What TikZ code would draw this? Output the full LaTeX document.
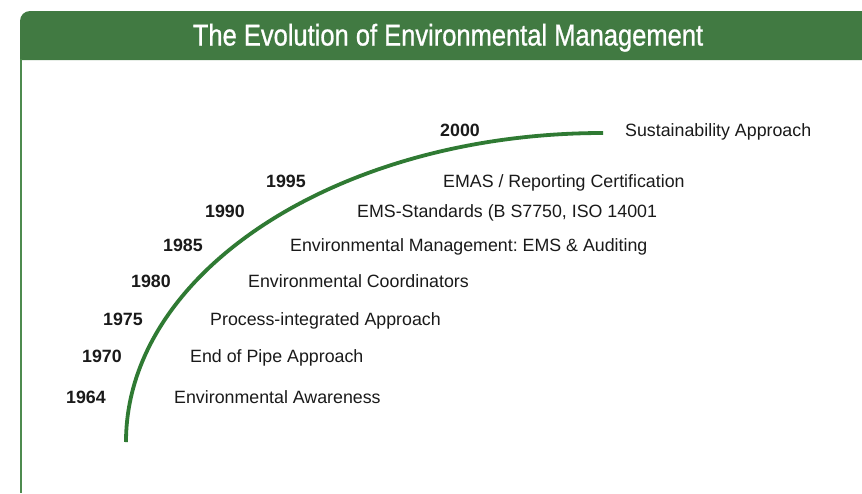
\documentclass[tikz,border=0pt]{standalone}
\usepackage{fontspec}
\setmainfont{Liberation Sans}
\newfontfamily\headfont[FakeStretch=0.85,FakeBold=0.9]{Liberation Sans}
\definecolor{hdrgreen}{HTML}{417A42}
\definecolor{framegreen}{HTML}{4E8B4F}
\definecolor{arcgreen}{HTML}{2F7A33}
\definecolor{ink}{HTML}{1A1A1A}
\frenchspacing
\begin{document}
\begin{tikzpicture}[x=1pt,y=-1pt,
  year/.style={anchor=base east,inner sep=0pt,text=ink,font=\fontsize{17.8}{20}\selectfont\bfseries},
  stage/.style={anchor=base west,inner sep=0pt,text=ink,font=\fontsize{17.8}{20}\selectfont},
  title/.style={inner sep=0pt,text=white,anchor=base,font=\headfont\fontsize{30}{32}\selectfont}]
\useasboundingbox (0,0) rectangle (862,493);
\fill[white] (0,0) rectangle (862,493);

% header band with rounded top-left corner
\fill[hdrgreen] (20,60) [rounded corners=10pt]-- (20,11) [sharp corners]-- (862,11) -- (862,60) -- cycle;
\node[title] (head) at (448,45.5) {The Evolution of Environmental Management};

% left frame line
\draw[framegreen,line width=2pt] (21,59) -- (21,493);

% growth curve
\draw[arcgreen,line width=3.8pt] (126,442) .. controls (126,271) and (340,133) .. (603,133);

% years
\node[year] (y2000) at (480,136.5) {2000};
\node[year] (y1995) at (306,187.5) {1995};
\node[year] (y1990) at (245,217.5) {1990};
\node[year] (y1985) at (203,251.5) {1985};
\node[year] (y1980) at (171,287.5) {1980};
\node[year] (y1975) at (143,325.5) {1975};
\node[year] (y1970) at (122,362.5) {1970};
\node[year] (y1964) at (106,403.5) {1964};

% stages
\node[stage] (s2000) at (625,136.5) {Sustainability Approach};
\node[stage] (s1995) at (443,187.5) {EMAS / Reporting Certification};
\node[stage] (s1990) at (357,217.5) {EMS-Standards (B S7750, ISO 14001};
\node[stage] (s1985) at (290,251.5) {Environmental Management: EMS \& Auditing};
\node[stage] (s1980) at (248,287.5) {Environmental Coordinators};
\node[stage] (s1975) at (210,325.5) {Process-integrated Approach};
\node[stage] (s1970) at (190,362.5) {End of Pipe Approach};
\node[stage] (s1964) at (174,403.5) {Environmental Awareness};
\end{tikzpicture}
\end{document}
